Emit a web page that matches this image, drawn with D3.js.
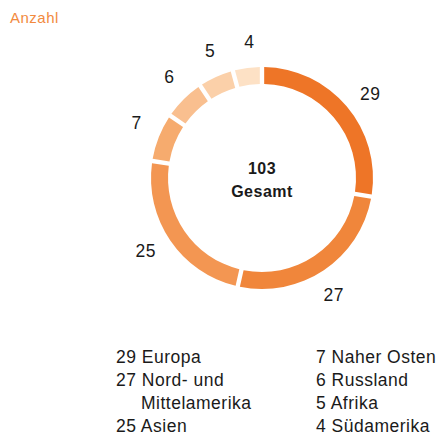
<!DOCTYPE html>
<html>
<head>
<meta charset="utf-8">
<script src="https://cdn.jsdelivr.net/npm/d3@7"></script>
<style>
  body { margin: 0; background: #fff; }
  text { font-family: "Liberation Sans", Arial, sans-serif; }
</style>
</head>
<body>
<svg id="chart" width="440" height="436"></svg>
<script>
// data
const regions = ["Europa", "Nord- und Mittelamerika", "Asien", "Naher Osten", "Russland", "Afrika", "Südamerika"];
const counts = [29, 27, 25, 7, 6, 5, 4];
const colors = ["#ee7527", "#f0863b", "#f39652", "#f6ab6e", "#f9bf8f", "#fbd0a9", "#fde1c5"];
// legend lines, split the way the reference wraps them
const legendLeft = [["29 Europa"], ["27 Nord- und", "Mittelamerika"], ["25 Asien"]];
const legendRight = [["7 Naher Osten"], ["6 Russland"], ["5 Afrika"], ["4 Südamerika"]];

const svg = d3.select("#chart");
const cx = 262, cy = 178;
const outerR = 111, innerR = 94, labelR = 137;
const labelShift = 0.04; // labels sit a bit clockwise of the slice middle

svg.append("text")
  .attr("x", 10).attr("y", 23)
  .attr("fill", "#f28a3e")
  .style("font-size", "15px")
  .style("letter-spacing", "0.5px")
  .text("Anzahl");

const pie = d3.pie().sort(null).padAngle(0.03);
const arcs = pie(counts);
const arc = d3.arc().innerRadius(innerR).outerRadius(outerR);

const ring = svg.append("g").attr("transform", "translate(" + cx + "," + cy + ")");

ring.selectAll(".slice").data(arcs)
  .enter()
  .append("path")
  .attr("class", "slice")
  .attr("d", arc)
  .attr("fill", (d, i) => colors[i]);

function labelPos(d) {
  let a = (d.startAngle + d.endAngle) / 2 + labelShift;
  return [Math.sin(a) * labelR, -Math.cos(a) * labelR];
}

ring.selectAll(".val").data(arcs)
  .enter()
  .append("text")
  .attr("class", "val")
  .attr("transform", d => "translate(" + labelPos(d) + ")")
  .attr("text-anchor", "middle")
  .attr("dy", "0.35em")
  .attr("fill", "#1a1a1a")
  .style("font-size", "17.5px")
  .style("letter-spacing", "0.5px")
  .text(d => d.data);

// total in the middle
ring.append("text")
  .attr("y", -4)
  .attr("text-anchor", "middle")
  .attr("fill", "#1a1a1a")
  .style("font-size", "16px")
  .style("font-weight", "bold")
  .style("letter-spacing", "0.5px")
  .text(d3.sum(counts));
ring.append("text")
  .attr("y", 19)
  .attr("text-anchor", "middle")
  .attr("fill", "#1a1a1a")
  .style("font-size", "16px")
  .style("font-weight", "bold")
  .style("letter-spacing", "0.5px")
  .text("Gesamt");

// legend
function drawLegend(items, x) {
  let row = 0;
  items.forEach(lines => {
    lines.forEach((line, j) => {
      svg.append("text")
        .attr("x", j == 0 ? x : x + 25)
        .attr("y", 363 + row * 23)
        .attr("fill", "#1a1a1a")
        .style("font-size", "17.5px")
        .style("letter-spacing", "0.5px")
        .text(line);
      row++;
    });
  });
}
drawLegend(legendLeft, 116);
drawLegend(legendRight, 316);
</script>
</body>
</html>
